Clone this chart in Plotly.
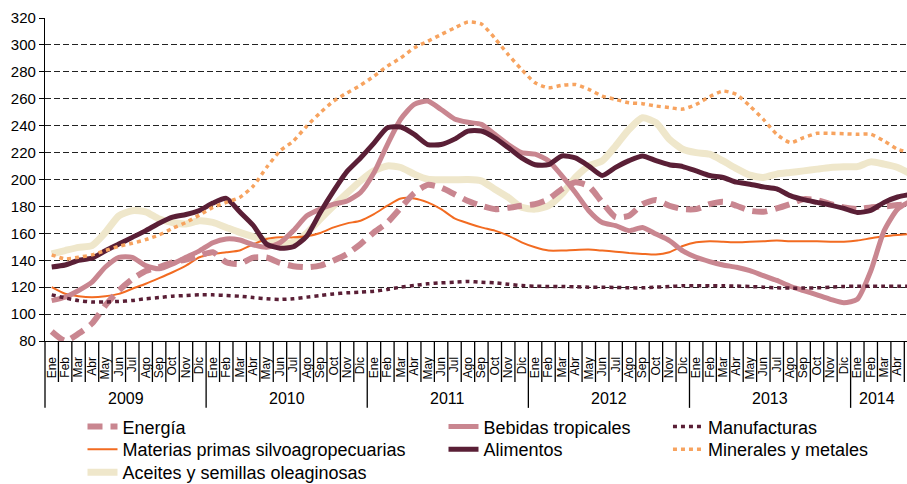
import plotly.graph_objects as go

# meses Ene 2009 .. May 2014
months = ["Ene", "Feb", "Mar", "Abr", "May", "Jun", "Jul", "Ago", "Sep", "Oct", "Nov", "Dic"]
years = ["2009", "2010", "2011", "2012", "2013", "2014"]
n_months = 65
month_labels = [months[i % 12] for i in range(n_months)]

energia = [87, 80, 85.5, 93, 106.5, 117.5, 126, 132, 135, 138.5, 140.5, 143.5,
           146, 138.5, 137.3, 142, 142, 138, 135.6, 134.8, 136, 139.8, 144.7, 152,
           160.7, 168, 179, 190, 196, 194, 189, 184, 180.5, 178, 179, 180.5,
           181.7, 185.4, 193, 198, 195, 183, 172, 173, 181.7, 184.7, 180.5, 178,
           178, 181.7, 183.5, 180.5, 176.8, 176, 178.5, 181.7, 185.4, 184.7, 181.7, 179.3,
           178, 179.3, 180, 181, 181.7]
bebidas = [110, 112.6, 117.5, 123.7, 135, 142.2, 142.2, 136, 133.6, 137.3, 142.2, 147,
           153, 155.8, 155, 151.5, 149.6, 153, 162, 173, 178, 181.7, 184, 190.4,
           205, 226, 245, 255.8, 258.3, 252, 245, 242.5, 241, 233.6, 226, 220,
           218.8, 214, 202.7, 190.4, 176.8, 168, 165.7, 162, 164.4, 159.5, 154.6, 147,
           142.2, 139, 136.5, 134.8, 132.3, 128.6, 125, 120.7, 117.5, 114.3, 111, 108.4,
           111, 132, 162, 178, 184]
manufacturas = [114.3, 112, 110, 109, 109, 109.4, 110.1, 111.4, 112.3, 113.3, 113.8, 114.3,
                114.3, 113.8, 113.3, 112.3, 111.4, 110.9, 111.4, 112.6, 113.8, 115, 115.8, 116.3,
                117, 118.3, 120, 121.2, 122.5, 123.2, 123.7, 124.2, 123.7, 123.2, 122.2, 121.2,
                120.7, 120.5, 120.5, 120.3, 120, 120, 119.8, 119.5, 119.5, 120, 120.5, 121,
                121, 121, 121, 120.8, 120.5, 120, 119.5, 119.3, 119.3, 119.5, 120, 120.5,
                120.7, 120.7, 120.7, 120.7, 120.7]
materias = [120, 115.1, 113.3, 112.6, 113.3, 115, 118.8, 122.5, 126.7, 131.1, 136, 142.2,
            144.7, 145.9, 147.2, 151.8, 155.8, 157, 157, 157.8, 160.2, 164.4, 167.4, 169.4,
            174.3, 180.5, 185.9, 185.9, 183, 178, 171.1, 167.5, 164.4, 162, 158.3, 153.3,
            149.6, 147.2, 147.2, 147.7, 147.9, 147.2, 146.4, 145.4, 144.7, 144.2, 146, 150.6,
            153.3, 154.1, 153.8, 153.3, 153.8, 154.1, 154.6, 154.1, 154.1, 154.1, 153.8, 153.8,
            154.6, 156.3, 157.8, 158.8, 159.5]
alimentos = [135, 136.5, 140, 141.5, 147, 152, 157, 162, 167.5, 172, 174, 177,
             182.5, 186, 176, 166, 152, 149, 150, 158, 175.5, 191.5, 206, 216,
             227, 238.5, 239, 233.5, 226, 226, 230, 236, 236, 231, 223.7, 216,
             211, 211, 217.5, 216, 210, 203, 209, 214, 217.5, 214, 211, 209.6,
             206.4, 203, 201.5, 198, 196.5, 194.5, 193, 188, 185, 183, 181, 178.5,
             175.5, 177, 183, 187, 189]
minerales = [144, 141, 142.2, 144, 147.2, 150.4, 152.6, 155.3, 158.8, 163.7, 168.1, 173.6,
             179.3, 183, 186.7, 195, 208.9, 221.2, 228.6, 239.8, 249.6, 258.3, 264.4, 270,
             276.8, 284.2, 290.4, 297.8, 302.7, 307.7, 312.6, 317, 315.5, 305, 292.8, 281.7,
             271.9, 268.1, 270, 270.6, 267, 262, 259.5, 257, 256.3, 254.6, 253.4, 252.3,
             255.8, 261.5, 265.7, 263.2, 254.6, 244.7, 233.6, 227.4, 231.1, 234.3, 234.3, 234,
             233.6, 233.6, 228.6, 222.5, 220]
aceites = [144.7, 147.2, 149.6, 150.9, 160.7, 173, 176.8, 176, 170.6, 168.1, 167, 169.4,
           168.1, 164.4, 160.7, 157.5, 154.6, 152.6, 153.3, 160.2, 170.6, 180.5, 189.9, 199,
           206.4, 210.1, 208.9, 204, 200.2, 199.8, 199.8, 200, 199, 192.8, 186.7, 179.3,
           178, 180.5, 189.1, 201.5, 210.1, 213.8, 224.9, 237.3, 245.9, 242.2, 229.9, 222.5,
           220, 218.8, 213.8, 208.1, 203.2, 201.5, 204, 205.2, 206.4, 207.7, 208.9, 209.4,
           209.6, 213.1, 211.4, 208.9, 204]

x = list(range(n_months))
FONT = "Liberation Sans, Arial, sans-serif"

fig = go.Figure()

# legend slots (column x, row y) in paper coords
cols = [0.0435, 0.4623, 0.7227]
rows = [-0.266, -0.336, -0.407]
leg_layout = {}

def add(name, y, color, width, legend_id, col, row, dash="solid"):
    fig.add_trace(go.Scatter(x=x, y=y, name=name, mode="lines",
                             line=dict(color=color, width=width, dash=dash, shape="spline", smoothing=0.6),
                             legend=legend_id))
    leg_layout[legend_id] = dict(x=cols[col], y=rows[row], xanchor="left", yanchor="middle",
                                 bgcolor="rgba(0,0,0,0)", itemwidth=30,
                                 font=dict(size=18, color="black", family=FONT))

# drawing order: bottom first
add("Aceites y semillas oleaginosas", aceites, "#efe7cb", 7, "legend", 0, 2)
add("Materias primas silvoagropecuarias", materias, "#f26b21", 2, "legend2", 0, 1)
add("Bebidas tropicales", bebidas, "#c98690", 5, "legend3", 1, 0)
add("Energía", energia, "#c98690", 6, "legend4", 0, 0, dash="15px,8px")
add("Alimentos", alimentos, "#5a1f36", 5, "legend5", 1, 1)
add("Manufacturas", manufacturas, "#5a1f36", 3.5, "legend6", 2, 0, dash="4px,4px")
add("Minerales y metales", minerales, "#f7a35f", 3.5, "legend7", 2, 1, dash="4px,4px")

# tick separators below the axis
shapes = []
shapes.append(dict(type="line", xref="paper", yref="paper", x0=0, x1=0, y0=0, y1=-0.207,
                   line=dict(color="black", width=1.3)))
for i in range(1, n_months + 1):
    b = i - 0.5
    y1 = -0.207 if i % 12 == 0 else -0.127
    shapes.append(dict(type="line", xref="x", yref="paper", x0=b, x1=b, y0=0, y1=y1,
                       line=dict(color="black", width=1.3)))

annotations = []
for k, yr in enumerate(years):
    first = k * 12
    last = min(first + 11, 63)
    annotations.append(dict(x=(first + last) / 2, y=-0.178, xref="x", yref="paper", text=yr,
                            xanchor="center", yanchor="middle",
                            showarrow=False, font=dict(size=16, color="black", family=FONT)))

fig.update_layout(
    width=907, height=484,
    margin=dict(l=45, r=0, t=18, b=143, autoexpand=False),
    paper_bgcolor="white", plot_bgcolor="white",
    font=dict(family=FONT, color="black"),
    shapes=shapes, annotations=annotations,
    xaxis=dict(range=[-0.5, 63.7], tickmode="array", tickvals=x, ticktext=month_labels,
               tickangle=-90, ticks="", showgrid=False, zeroline=False,
               showline=True, linecolor="black", linewidth=1.3,
               tickfont=dict(size=12, color="black", family=FONT), ticklabelstandoff=10),
    yaxis=dict(range=[80, 320], dtick=20, tickmode="linear", tick0=80,
               showgrid=True, gridcolor="#222", griddash="6px,3px", gridwidth=1,
               zeroline=False, showline=True, linecolor="black", linewidth=1.3,
               ticks="outside", ticklen=5, tickcolor="black",
               tickfont=dict(size=15, color="black", family=FONT)),
    showlegend=True,
    **leg_layout,
)

fig.write_html("out.html", config={"displayModeBar": False},
               post_script="document.body.style.margin='0';")
